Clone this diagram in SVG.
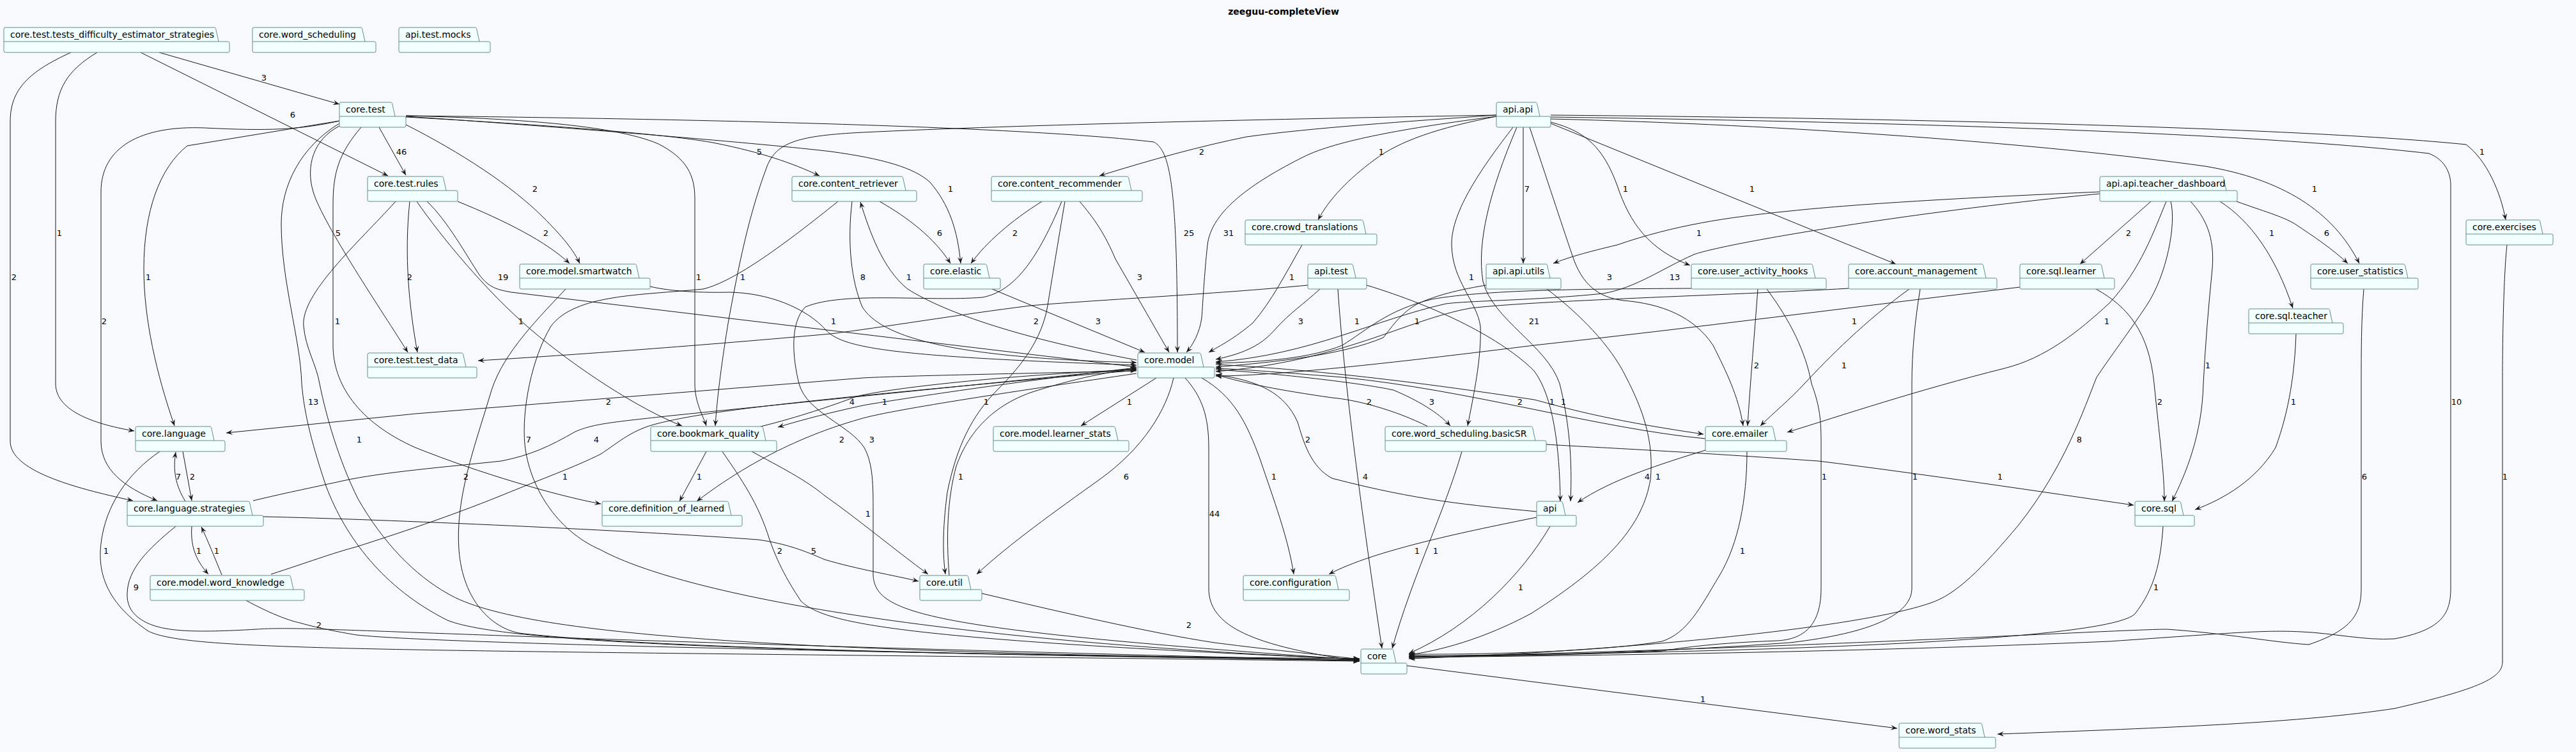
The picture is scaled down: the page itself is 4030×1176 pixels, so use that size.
<svg xmlns="http://www.w3.org/2000/svg" width="4030" height="1176" viewBox="0 0 4030 1176">
<defs>
<style>
.pk{fill:#F1FFFF;stroke:#668B8B;stroke-width:1}
.nl{font-family:"DejaVu Sans",Verdana,sans-serif;font-size:14px;fill:#000}
.e{fill:none;stroke:#181818;stroke-width:1;marker-end:url(#ah)}
.l{font-family:"DejaVu Sans",Verdana,sans-serif;font-size:13px;fill:#000;text-anchor:middle}
.t{font-family:"DejaVu Sans",Verdana,sans-serif;font-size:14px;font-weight:bold;text-anchor:middle;fill:#000}
</style>
<marker id="ah" viewBox="-11 -5 12 10" refX="0" refY="0" markerWidth="12" markerHeight="10" orient="auto" markerUnits="userSpaceOnUse"><path d="M0,0 L-10,-4 L-6,0 L-10,4 Z" fill="#181818"/></marker>
</defs>
<rect x="0" y="0" width="4030" height="1176" fill="#F8F9FD"/>
<text class="t" x="2008" y="23">zeeguu-completeView</text>

<g id="connectors">
<path id="e1" class="e" d="M249,82 L531,163"/>
<path id="e2" class="e" d="M220,82 L607,275"/>
<path id="e3" class="e" d="M152,82 C105,110 87,140 87,190 L87,600 C87,640 140,662 210,674"/>
<path id="e4" class="e" d="M111,82 C45,112 16,140 16,190 L16,690 C16,735 110,762 208,783"/>
<path id="e5" class="e" d="M593,199 L635,274"/>
<path id="e6" class="e" d="M531,197 C490,218 478,260 490,300 C505,350 600,490 638,551"/>
<path id="e7" class="e" d="M531,189 L293,228 C250,262 225,330 225,420 C225,500 245,585 273,666"/>
<path id="e8" class="e" d="M531,189 C470,203 420,205 320,200 C220,196 158,230 158,300 L158,690 C158,735 195,762 246,783"/>
<path id="e9" class="e" d="M531,193 C470,230 440,290 440,350 C440,440 470,530 472,600 C476,650 490,700 510,760 C540,840 600,920 700,970 C800,1010 1300,1020 2127,1033"/>
<path id="e10" class="e" d="M565,199 C530,240 521,270 521,320 L521,540 C521,600 560,660 650,700 C750,740 870,775 940,788"/>
<path id="e11" class="e" d="M635,195 C720,238 800,290 850,340 C880,370 898,392 907,412"/>
<path id="e12" class="e" d="M635,181 C800,185 960,195 1030,225 C1075,248 1087,275 1087,310 L1087,600 C1087,630 1100,650 1105,666"/>
<path id="e13" class="e" d="M635,183 C850,195 1050,210 1120,224 C1190,238 1240,255 1282,275"/>
<path id="e14" class="e" d="M635,182 C900,200 1200,225 1300,237 C1380,248 1430,262 1455,285 C1485,320 1498,360 1503,412"/>
<path id="e15" class="e" d="M635,181 C1100,186 1600,198 1805,222 C1832,236 1842,300 1842,551"/>
<path id="e16" class="e" d="M641,315 C632,400 640,480 653,551"/>
<path id="e17" class="e" d="M716,315 C790,345 855,378 891,412"/>
<path id="e18" class="e" d="M668,315 C700,345 730,400 750,430 C765,450 778,453 800,457 L1778,574"/>
<path id="e19" class="e" d="M619,315 C560,380 470,460 475,510 C478,545 495,570 500,600 C510,650 530,720 560,780 C600,850 650,900 700,928 C820,1000 1300,1020 2127,1032"/>
<path id="e20" class="e" d="M652,315 C690,370 760,455 830,515 C900,575 1000,640 1067,666"/>
<path id="e21" class="e" d="M885,452 C830,510 782,560 766,620 C742,700 712,780 718,860 C724,940 770,982 812,990 C1000,1012 1500,1025 2127,1030"/>
<path id="e22" class="e" d="M1017,448 C1050,456 1100,458 1141,457 C1200,458 1260,480 1293,517 C1320,545 1400,558 1778,571"/>
<path id="e23" class="e" d="M1311,315 C1230,380 1150,440 1100,452 C1000,462 900,460 862,510 C832,560 816,640 821,695 C828,760 870,830 940,860 C1050,920 1400,1000 2127,1031"/>
<path id="e24" class="e" d="M1333,315 C1325,380 1332,440 1349,480 C1380,530 1500,560 1778,567"/>
<path id="e25" class="e" d="M1778,563 C1600,530 1480,490 1420,452 C1380,420 1360,360 1346,316"/>
<path id="e26" class="e" d="M1376,315 C1420,340 1462,372 1487,412"/>
<path id="e27" class="e" d="M1630,315 C1582,345 1542,380 1519,412"/>
<path id="e28" class="e" d="M1689,315 C1712,342 1728,365 1745,405 L1829,551"/>
<path id="e29" class="e" d="M1666,315 C1655,380 1645,440 1639,478 C1630,530 1600,570 1560,610 C1520,650 1496,700 1482,770 C1474,830 1475,870 1479,898"/>
<path id="e30" class="e" d="M1661,315 C1625,400 1590,455 1537,465 C1450,472 1320,455 1260,480 C1235,505 1240,560 1250,600 C1262,645 1330,665 1352,700 C1366,725 1366,760 1366,800 L1366,900 C1370,960 1450,985 2127,1032"/>
<path id="e31" class="e" d="M1485,900 C1480,840 1482,780 1496,729 C1510,690 1540,640 1612,614 C1680,592 1740,580 1778,577"/>
<path id="e32" class="e" d="M1836,591 C1825,640 1790,700 1720,750 C1650,800 1580,850 1528,898"/>
<path id="e33" class="e" d="M1809,591 L1691,666"/>
<path id="e34" class="e" d="M1854,591 C1880,620 1891,650 1891,700 L1891,920 C1891,980 1960,1010 2127,1034"/>
<path id="e35" class="e" d="M1880,591 C1930,620 1950,660 1972,720 C1992,780 2015,840 2024,898"/>
<path id="e36" class="e" d="M1778,580 C1600,584 1400,588 1350,591 L650,647 L354,677"/>
<path id="e37" class="e" d="M396,783 C450,770 500,760 536,752 C600,738 700,730 784,721 C830,712 860,698 900,675 C930,662 962,660 1050,650 L1778,576"/>
<path id="e38" class="e" d="M424,898 C480,880 520,865 558,855 C620,835 700,809 784,775 C850,748 900,730 940,710 C970,690 989,672 1030,662 C1100,645 1200,630 1778,579"/>
<path id="e39" class="e" d="M1105,706 L1063,784"/>
<path id="e40" class="e" d="M1778,584 C1600,610 1400,640 1350,654 C1300,668 1200,700 1090,784"/>
<path id="e41" class="e" d="M1190,667 C1250,652 1300,635 1340,620 C1400,605 1600,585 1778,578"/>
<path id="e42" class="e" d="M1778,575 C1600,595 1400,625 1350,634 C1300,645 1260,655 1217,668"/>
<path id="e43" class="e" d="M1130,706 C1160,750 1186,786 1204,844 C1220,890 1240,920 1253,940 C1290,975 1400,1000 2127,1031"/>
<path id="e44" class="e" d="M412,808 C600,812 1000,830 1186,844 C1230,850 1260,862 1290,875 C1340,890 1400,900 1437,909"/>
<path id="e45" class="e" d="M1176,706 C1220,730 1260,750 1290,775 C1340,810 1400,860 1452,898"/>
<path id="e46" class="e" d="M1536,928 C1650,955 1800,990 1900,1005 C2000,1018 2080,1025 2127,1031"/>
<path id="e47" class="e" d="M250,706 C200,740 165,790 158,850 C152,900 170,945 232,987 C300,1020 600,1015 2127,1034"/>
<path id="e48" class="e" d="M275,823 C230,860 200,890 199,928 C198,950 210,965 232,975 C260,987 300,990 402,984 C500,978 600,995 2127,1033"/>
<path id="e49" class="e" d="M385,939 C420,958 450,970 469,974 C500,983 540,990 558,993 C700,1008 1500,1022 2127,1033"/>
<path id="e50" class="e" d="M300,823 C298,850 304,874 326,898"/>
<path id="e51" class="e" d="M347,899 C335,870 325,845 315,824"/>
<path id="e52" class="e" d="M290,784 C275,760 270,735 275,707"/>
<path id="e53" class="e" d="M286,706 L300,783"/>
<path id="e54" class="e" d="M2046,446 C1900,460 1700,470 1612,478 C1500,492 1380,512 1300,522 C1100,540 900,555 748,564"/>
<path id="e55" class="e" d="M2065,452 C2040,475 2017,490 1995,515 C1975,538 1950,552 1902,562"/>
<path id="e56" class="e" d="M2093,452 C2103,600 2130,800 2162,1014"/>
<path id="e57" class="e" d="M2037,383 C2010,430 1990,470 1960,505 C1930,530 1910,540 1891,551"/>
<path id="e58" class="e" d="M2325,446 C2270,455 2240,465 2218,475 C2190,490 2175,515 2164,528 C2100,555 2000,566 1902,574"/>
<path id="e59" class="e" d="M2646,451 C2500,452 2330,452 2240,468 C2170,485 2140,515 2100,540 C2050,560 1980,566 1902,568"/>
<path id="e60" class="e" d="M2892,451 C2700,462 2400,470 2300,482 C2200,500 2100,565 1902,581"/>
<path id="e61" class="e" d="M3160,449 C2900,480 2650,513 2400,540 C2200,565 2000,588 1902,588"/>
<path id="e62" class="e" d="M3285,303 C3000,330 2700,380 2650,398 C2600,420 2560,450 2508,459 C2400,470 2300,470 2262,475 C2150,500 2050,555 1902,566"/>
<path id="e63" class="e" d="M3285,300 C3100,308 2912,318 2800,330 C2700,340 2620,352 2530,383 C2480,395 2455,402 2430,412"/>
<path id="e64" class="e" d="M2341,180 C2200,190 2050,200 1950,214 C1880,228 1800,250 1720,275"/>
<path id="e65" class="e" d="M2341,182 C2250,200 2190,220 2150,250 C2110,280 2080,310 2062,344"/>
<path id="e66" class="e" d="M2341,182 C2200,200 2090,220 2040,245 C1960,285 1895,330 1889,383 C1884,430 1882,470 1880,497 C1877,520 1866,540 1856,551"/>
<path id="e67" class="e" d="M2341,180 C2000,186 1600,195 1350,207 C1250,212 1215,222 1200,260 C1170,340 1155,420 1140,500 C1130,560 1122,620 1119,666"/>
<path id="e68" class="e" d="M2383,199 L2383,412"/>
<path id="e69" class="e" d="M2367,199 C2320,260 2270,330 2271,383 C2272,440 2310,470 2316,510 C2318,560 2305,620 2296,666"/>
<path id="e70" class="e" d="M2373,199 C2330,300 2310,380 2320,440 C2335,500 2420,540 2440,600 C2455,660 2460,720 2457,784"/>
<path id="e71" class="e" d="M2138,446 C2250,480 2350,530 2400,580 C2430,620 2440,700 2441,784"/>
<path id="e72" class="e" d="M2420,452 C2470,490 2520,540 2544,590 C2570,640 2588,690 2582,750 C2570,820 2520,880 2396,959 C2320,1000 2250,1018 2204,1024"/>
<path id="e73" class="e" d="M2393,199 C2420,280 2441,344 2460,400 C2475,445 2500,465 2540,470 C2600,475 2650,495 2680,540 C2700,580 2720,620 2727,666"/>
<path id="e74" class="e" d="M2426,191 C2480,205 2508,230 2530,290 C2550,350 2580,390 2644,415"/>
<path id="e75" class="e" d="M2426,193 L2966,413"/>
<path id="e76" class="e" d="M2426,186 C2800,195 3200,225 3450,260 C3570,280 3650,330 3691,412"/>
<path id="e77" class="e" d="M2426,183 C2900,190 3500,205 3800,240 C3825,250 3834,270 3834,290 L3834,920 C3834,960 3820,985 3746,999 C3700,1002 3650,990 3600,988 C3540,985 3490,990 3300,1003 C2900,1020 2500,1025 2204,1028"/>
<path id="e78" class="e" d="M2426,180 C3000,185 3600,200 3858,226 C3890,250 3912,300 3920,344"/>
<path id="e79" class="e" d="M3365,315 L3254,413"/>
<path id="e80" class="e" d="M3389,315 C3370,360 3350,420 3300,474 C3250,520 3200,560 3136,576 C3000,610 2880,650 2796,676"/>
<path id="e81" class="e" d="M3396,315 C3405,350 3390,430 3358,478 C3330,520 3300,560 3280,590 C3260,640 3230,730 3158,821 C3100,890 3060,930 3020,943 C2900,985 2500,1020 2204,1030"/>
<path id="e82" class="e" d="M3427,315 C3450,340 3465,370 3461,420 C3455,480 3450,540 3447,600 C3445,680 3420,740 3398,784"/>
<path id="e83" class="e" d="M3473,315 C3520,345 3560,400 3587,482"/>
<path id="e84" class="e" d="M3499,315 C3540,330 3570,338 3590,350 C3620,370 3650,390 3673,412"/>
<path id="e85" class="e" d="M3279,452 C3330,480 3362,520 3370,600 C3378,680 3386,740 3386,784"/>
<path id="e86" class="e" d="M3592,522 C3590,580 3582,640 3560,700 C3530,750 3480,780 3434,797"/>
<path id="e87" class="e" d="M2419,695 C2500,700 2600,704 2845,721 C3000,740 3200,770 3338,790"/>
<path id="e88" class="e" d="M3384,823 C3380,880 3371,920 3340,960 C3300,1000 2800,1020 2204,1026"/>
<path id="e89" class="e" d="M3698,452 C3694,500 3694,550 3694,600 L3694,920 C3694,960 3680,985 3612,1008 C3560,1005 3480,990 3389,984 C3300,985 2800,1015 2204,1027"/>
<path id="e90" class="e" d="M3922,383 C3918,420 3915,500 3915,600 L3915,1035 C3915,1060 3880,1077 3746,1108 C3600,1130 3400,1138 3125,1148"/>
<path id="e91" class="e" d="M2201,1041 L2968,1139"/>
<path id="e92" class="e" d="M2750,452 C2745,520 2738,600 2734,666"/>
<path id="e93" class="e" d="M2764,452 C2800,500 2825,550 2834,600 C2845,630 2849,650 2849,690 L2849,920 C2849,980 2820,1000 2780,1002 C2700,1005 2650,1010 2600,1018 C2450,1025 2300,1027 2204,1025"/>
<path id="e94" class="e" d="M2987,452 C2920,500 2860,560 2823,600 C2800,625 2775,645 2754,666"/>
<path id="e95" class="e" d="M3004,452 C2996,500 2991,550 2991,600 L2991,920 C2991,960 2930,990 2800,1005 C2600,1020 2400,1025 2204,1028"/>
<path id="e96" class="e" d="M2668,704 C2600,725 2520,750 2468,786"/>
<path id="e97" class="e" d="M2733,706 C2733,780 2720,850 2690,900 C2660,950 2640,990 2600,1003 C2500,1020 2300,1024 2204,1023"/>
<path id="e98" class="e" d="M1902,570 C2100,580 2300,610 2400,625 C2440,635 2500,655 2665,679"/>
<path id="e99" class="e" d="M2668,686 C2500,670 2300,610 2100,590 C2000,582 1950,578 1902,576"/>
<path id="e100" class="e" d="M1902,578 C2000,584 2129,599 2180,610 C2218,626 2250,645 2269,666"/>
<path id="e101" class="e" d="M2234,667 C2180,640 2120,625 2084,622 C2000,610 1950,600 1902,586"/>
<path id="e102" class="e" d="M2287,706 C2260,800 2210,900 2178,1014"/>
<path id="e103" class="e" d="M2404,809 C2300,830 2150,860 2079,898"/>
<path id="e104" class="e" d="M2425,823 C2380,900 2300,980 2204,1022"/>
<path id="e105" class="e" d="M2404,800 C2300,790 2218,783 2084,748 C2050,730 2039,690 2030,660 C2010,615 1970,595 1902,586"/>
<path id="e106" class="e" d="M1552,452 L1791,551"/>
</g>

<g id="edge-labels">
<text class="l" x="413" y="126">3</text>
<text class="l" x="458" y="184">6</text>
<text class="l" x="93" y="369">1</text>
<text class="l" x="22" y="438">2</text>
<text class="l" x="628" y="242">46</text>
<text class="l" x="529" y="369">5</text>
<text class="l" x="232" y="438">1</text>
<text class="l" x="163" y="507">2</text>
<text class="l" x="490" y="633">13</text>
<text class="l" x="528" y="507">1</text>
<text class="l" x="837" y="300">2</text>
<text class="l" x="1093" y="438">1</text>
<text class="l" x="1188" y="242">5</text>
<text class="l" x="1487" y="300">1</text>
<text class="l" x="1860" y="369">25</text>
<text class="l" x="641" y="438">2</text>
<text class="l" x="854" y="369">2</text>
<text class="l" x="787" y="438">19</text>
<text class="l" x="562" y="692">1</text>
<text class="l" x="815" y="507">1</text>
<text class="l" x="729" y="750">2</text>
<text class="l" x="827" y="692">7</text>
<text class="l" x="1350" y="438">8</text>
<text class="l" x="1422" y="438">1</text>
<text class="l" x="1470" y="369">6</text>
<text class="l" x="1588" y="369">2</text>
<text class="l" x="1783" y="438">3</text>
<text class="l" x="1621" y="507">2</text>
<text class="l" x="1543" y="633">1</text>
<text class="l" x="1364" y="692">3</text>
<text class="l" x="1503" y="750">1</text>
<text class="l" x="1762" y="750">6</text>
<text class="l" x="1767" y="633">1</text>
<text class="l" x="1900" y="808">44</text>
<text class="l" x="1993" y="750">1</text>
<text class="l" x="952" y="633">2</text>
<text class="l" x="933" y="692">4</text>
<text class="l" x="884" y="750">1</text>
<text class="l" x="1094" y="750">1</text>
<text class="l" x="1317" y="692">2</text>
<text class="l" x="1333" y="633">4</text>
<text class="l" x="1384" y="633">1</text>
<text class="l" x="1220" y="866">2</text>
<text class="l" x="1273" y="866">5</text>
<text class="l" x="1358" y="808">1</text>
<text class="l" x="1860" y="982">2</text>
<text class="l" x="166" y="866">1</text>
<text class="l" x="213" y="923">9</text>
<text class="l" x="499" y="982">2</text>
<text class="l" x="311" y="866">1</text>
<text class="l" x="339" y="866">1</text>
<text class="l" x="279" y="750">7</text>
<text class="l" x="301" y="750">2</text>
<text class="l" x="1304" y="507">1</text>
<text class="l" x="2035" y="507">3</text>
<text class="l" x="2136" y="750">4</text>
<text class="l" x="2123" y="507">1</text>
<text class="l" x="2021" y="438">1</text>
<text class="l" x="2217" y="507">1</text>
<text class="l" x="2620" y="438">13</text>
<text class="l" x="2658" y="369">1</text>
<text class="l" x="1880" y="242">2</text>
<text class="l" x="2161" y="242">1</text>
<text class="l" x="1922" y="369">31</text>
<text class="l" x="1162" y="438">1</text>
<text class="l" x="2389" y="300">7</text>
<text class="l" x="2302" y="438">1</text>
<text class="l" x="2400" y="507">21</text>
<text class="l" x="2428" y="633">1</text>
<text class="l" x="2446" y="633">1</text>
<text class="l" x="2594" y="750">1</text>
<text class="l" x="2518" y="438">3</text>
<text class="l" x="2543" y="300">1</text>
<text class="l" x="2741" y="300">1</text>
<text class="l" x="3621" y="300">1</text>
<text class="l" x="3843" y="633">10</text>
<text class="l" x="3883" y="242">1</text>
<text class="l" x="3330" y="369">2</text>
<text class="l" x="3296" y="507">1</text>
<text class="l" x="3253" y="692">8</text>
<text class="l" x="3454" y="576">1</text>
<text class="l" x="3554" y="369">1</text>
<text class="l" x="3640" y="369">6</text>
<text class="l" x="3379" y="633">2</text>
<text class="l" x="3588" y="633">1</text>
<text class="l" x="3129" y="750">1</text>
<text class="l" x="3373" y="923">1</text>
<text class="l" x="3699" y="750">6</text>
<text class="l" x="3919" y="750">1</text>
<text class="l" x="2664" y="1098">1</text>
<text class="l" x="2748" y="576">2</text>
<text class="l" x="2854" y="750">1</text>
<text class="l" x="2885" y="576">1</text>
<text class="l" x="2901" y="507">1</text>
<text class="l" x="2996" y="750">1</text>
<text class="l" x="2577" y="750">4</text>
<text class="l" x="2726" y="866">1</text>
<text class="l" x="2378" y="633">2</text>
<text class="l" x="2240" y="633">3</text>
<text class="l" x="2142" y="633">2</text>
<text class="l" x="2246" y="866">1</text>
<text class="l" x="2217" y="866">1</text>
<text class="l" x="2379" y="923">1</text>
<text class="l" x="2046" y="692">2</text>
<text class="l" x="1718" y="507">3</text>
</g>

<g id="n1"><path class="pk" d="M6,65 V45.5 Q6,43 8.5,43 H335 Q337,43 337.5,44.5 L342,65 H356.5 Q359,65 359,67.5 V79.5 Q359,82 356.5,82 H8.5 Q6,82 6,79.5 Z"/><path class="pk" d="M6,65 H342"/><text class="nl" x="16" y="59">core.test.tests_difficulty_estimator_strategies</text></g>
<g id="n2"><path class="pk" d="M395,65 V45.5 Q395,43 397.5,43 H564 Q566,43 566.5,44.5 L571,65 H585.5 Q588,65 588,67.5 V79.5 Q588,82 585.5,82 H397.5 Q395,82 395,79.5 Z"/><path class="pk" d="M395,65 H571"/><text class="nl" x="405" y="59">core.word_scheduling</text></g>
<g id="n3"><path class="pk" d="M624,65 V45.5 Q624,43 626.5,43 H743 Q745,43 745.5,44.5 L750,65 H764.5 Q767,65 767,67.5 V79.5 Q767,82 764.5,82 H626.5 Q624,82 624,79.5 Z"/><path class="pk" d="M624,65 H750"/><text class="nl" x="634" y="59">api.test.mocks</text></g>
<g id="n4"><path class="pk" d="M531,182 V162.5 Q531,160 533.5,160 H611 Q613,160 613.5,161.5 L618,182 H632.5 Q635,182 635,184.5 V196.5 Q635,199 632.5,199 H533.5 Q531,199 531,196.5 Z"/><path class="pk" d="M531,182 H618"/><text class="nl" x="541" y="176">core.test</text></g>
<g id="n5"><path class="pk" d="M2341,182 V162.5 Q2341,160 2343.5,160 H2402 Q2404,160 2404.5,161.5 L2409,182 H2423.5 Q2426,182 2426,184.5 V196.5 Q2426,199 2423.5,199 H2343.5 Q2341,199 2341,196.5 Z"/><path class="pk" d="M2341,182 H2409"/><text class="nl" x="2351" y="176">api.api</text></g>
<g id="n6"><path class="pk" d="M575,298 V278.5 Q575,276 577.5,276 H691 Q693,276 693.5,277.5 L698,298 H713.5 Q716,298 716,300.5 V312.5 Q716,315 713.5,315 H577.5 Q575,315 575,312.5 Z"/><path class="pk" d="M575,298 H698"/><text class="nl" x="585" y="292">core.test.rules</text></g>
<g id="n7"><path class="pk" d="M1239,298 V278.5 Q1239,276 1241.5,276 H1410 Q1412,276 1412.5,277.5 L1417,298 H1431.5 Q1434,298 1434,300.5 V312.5 Q1434,315 1431.5,315 H1241.5 Q1239,315 1239,312.5 Z"/><path class="pk" d="M1239,298 H1417"/><text class="nl" x="1249" y="292">core.content_retriever</text></g>
<g id="n8"><path class="pk" d="M1551,298 V278.5 Q1551,276 1553.5,276 H1763 Q1765,276 1765.5,277.5 L1770,298 H1784.5 Q1787,298 1787,300.5 V312.5 Q1787,315 1784.5,315 H1553.5 Q1551,315 1551,312.5 Z"/><path class="pk" d="M1551,298 H1770"/><text class="nl" x="1561" y="292">core.content_recommender</text></g>
<g id="n9"><path class="pk" d="M3285,298 V278.5 Q3285,276 3287.5,276 H3476 Q3478,276 3478.5,277.5 L3483,298 H3497.5 Q3500,298 3500,300.5 V312.5 Q3500,315 3497.5,315 H3287.5 Q3285,315 3285,312.5 Z"/><path class="pk" d="M3285,298 H3483"/><text class="nl" x="3295" y="292">api.api.teacher_dashboard</text></g>
<g id="n10"><path class="pk" d="M1948,366 V346.5 Q1948,344 1950.5,344 H2130 Q2132,344 2132.5,345.5 L2137,366 H2151.5 Q2154,366 2154,368.5 V380.5 Q2154,383 2151.5,383 H1950.5 Q1948,383 1948,380.5 Z"/><path class="pk" d="M1948,366 H2137"/><text class="nl" x="1958" y="360">core.crowd_translations</text></g>
<g id="n11"><path class="pk" d="M3858,366 V346.5 Q3858,344 3860.5,344 H3971 Q3973,344 3973.5,345.5 L3978,366 H3991.5 Q3994,366 3994,368.5 V380.5 Q3994,383 3991.5,383 H3860.5 Q3858,383 3858,380.5 Z"/><path class="pk" d="M3858,366 H3978"/><text class="nl" x="3868" y="360">core.exercises</text></g>
<g id="n12"><path class="pk" d="M813,435 V415.5 Q813,413 815.5,413 H993 Q995,413 995.5,414.5 L1000,435 H1014.5 Q1017,435 1017,437.5 V449.5 Q1017,452 1014.5,452 H815.5 Q813,452 813,449.5 Z"/><path class="pk" d="M813,435 H1000"/><text class="nl" x="823" y="429">core.model.smartwatch</text></g>
<g id="n13"><path class="pk" d="M1445,435 V415.5 Q1445,413 1447.5,413 H1541 Q1543,413 1543.5,414.5 L1548,435 H1562.5 Q1565,435 1565,437.5 V449.5 Q1565,452 1562.5,452 H1447.5 Q1445,452 1445,449.5 Z"/><path class="pk" d="M1445,435 H1548"/><text class="nl" x="1455" y="429">core.elastic</text></g>
<g id="n14"><path class="pk" d="M2046,435 V415.5 Q2046,413 2048.5,413 H2114 Q2116,413 2116.5,414.5 L2121,435 H2135.5 Q2138,435 2138,437.5 V449.5 Q2138,452 2135.5,452 H2048.5 Q2046,452 2046,449.5 Z"/><path class="pk" d="M2046,435 H2121"/><text class="nl" x="2056" y="429">api.test</text></g>
<g id="n15"><path class="pk" d="M2325,435 V415.5 Q2325,413 2327.5,413 H2418 Q2420,413 2420.5,414.5 L2425,435 H2439.5 Q2442,435 2442,437.5 V449.5 Q2442,452 2439.5,452 H2327.5 Q2325,452 2325,449.5 Z"/><path class="pk" d="M2325,435 H2425"/><text class="nl" x="2335" y="429">api.api.utils</text></g>
<g id="n16"><path class="pk" d="M2646,435 V415.5 Q2646,413 2648.5,413 H2833 Q2835,413 2835.5,414.5 L2840,435 H2854.5 Q2857,435 2857,437.5 V449.5 Q2857,452 2854.5,452 H2648.5 Q2646,452 2646,449.5 Z"/><path class="pk" d="M2646,435 H2840"/><text class="nl" x="2656" y="429">core.user_activity_hooks</text></g>
<g id="n17"><path class="pk" d="M2892,435 V415.5 Q2892,413 2894.5,413 H3100 Q3102,413 3102.5,414.5 L3107,435 H3121.5 Q3124,435 3124,437.5 V449.5 Q3124,452 3121.5,452 H2894.5 Q2892,452 2892,449.5 Z"/><path class="pk" d="M2892,435 H3107"/><text class="nl" x="2902" y="429">core.account_management</text></g>
<g id="n18"><path class="pk" d="M3160,435 V415.5 Q3160,413 3162.5,413 H3285 Q3287,413 3287.5,414.5 L3292,435 H3305.5 Q3308,435 3308,437.5 V449.5 Q3308,452 3305.5,452 H3162.5 Q3160,452 3160,449.5 Z"/><path class="pk" d="M3160,435 H3292"/><text class="nl" x="3170" y="429">core.sql.learner</text></g>
<g id="n19"><path class="pk" d="M3615,435 V415.5 Q3615,413 3617.5,413 H3760 Q3762,413 3762.5,414.5 L3767,435 H3780.5 Q3783,435 3783,437.5 V449.5 Q3783,452 3780.5,452 H3617.5 Q3615,452 3615,449.5 Z"/><path class="pk" d="M3615,435 H3767"/><text class="nl" x="3625" y="429">core.user_statistics</text></g>
<g id="n20"><path class="pk" d="M3518,505 V485.5 Q3518,483 3520.5,483 H3642 Q3644,483 3644.5,484.5 L3649,505 H3663.5 Q3666,505 3666,507.5 V519.5 Q3666,522 3663.5,522 H3520.5 Q3518,522 3518,519.5 Z"/><path class="pk" d="M3518,505 H3649"/><text class="nl" x="3528" y="499">core.sql.teacher</text></g>
<g id="n21"><path class="pk" d="M575,574 V554.5 Q575,552 577.5,552 H722 Q724,552 724.5,553.5 L729,574 H743.5 Q746,574 746,576.5 V588.5 Q746,591 743.5,591 H577.5 Q575,591 575,588.5 Z"/><path class="pk" d="M575,574 H729"/><text class="nl" x="585" y="568">core.test.test_data</text></g>
<g id="n22"><path class="pk" d="M1780,574 V554.5 Q1780,552 1782.5,552 H1876 Q1878,552 1878.5,553.5 L1883,574 H1897.5 Q1900,574 1900,576.5 V588.5 Q1900,591 1897.5,591 H1782.5 Q1780,591 1780,588.5 Z"/><path class="pk" d="M1780,574 H1883"/><text class="nl" x="1790" y="568">core.model</text></g>
<g id="n23"><path class="pk" d="M212,689 V669.5 Q212,667 214.5,667 H328 Q330,667 330.5,668.5 L335,689 H349.5 Q352,689 352,691.5 V703.5 Q352,706 349.5,706 H214.5 Q212,706 212,703.5 Z"/><path class="pk" d="M212,689 H335"/><text class="nl" x="222" y="683">core.language</text></g>
<g id="n24"><path class="pk" d="M1018,689 V669.5 Q1018,667 1020.5,667 H1191 Q1193,667 1193.5,668.5 L1198,689 H1212.5 Q1215,689 1215,691.5 V703.5 Q1215,706 1212.5,706 H1020.5 Q1018,706 1018,703.5 Z"/><path class="pk" d="M1018,689 H1198"/><text class="nl" x="1028" y="683">core.bookmark_quality</text></g>
<g id="n25"><path class="pk" d="M1554,689 V669.5 Q1554,667 1556.5,667 H1742 Q1744,667 1744.5,668.5 L1749,689 H1763.5 Q1766,689 1766,691.5 V703.5 Q1766,706 1763.5,706 H1556.5 Q1554,706 1554,703.5 Z"/><path class="pk" d="M1554,689 H1749"/><text class="nl" x="1564" y="683">core.model.learner_stats</text></g>
<g id="n26"><path class="pk" d="M2167,689 V669.5 Q2167,667 2169.5,667 H2395 Q2397,667 2397.5,668.5 L2402,689 H2416.5 Q2419,689 2419,691.5 V703.5 Q2419,706 2416.5,706 H2169.5 Q2167,706 2167,703.5 Z"/><path class="pk" d="M2167,689 H2402"/><text class="nl" x="2177" y="683">core.word_scheduling.basicSR</text></g>
<g id="n27"><path class="pk" d="M2668,689 V669.5 Q2668,667 2670.5,667 H2771 Q2773,667 2773.5,668.5 L2778,689 H2792.5 Q2795,689 2795,691.5 V703.5 Q2795,706 2792.5,706 H2670.5 Q2668,706 2668,703.5 Z"/><path class="pk" d="M2668,689 H2778"/><text class="nl" x="2678" y="683">core.emailer</text></g>
<g id="n28"><path class="pk" d="M199,806 V786.5 Q199,784 201.5,784 H388 Q390,784 390.5,785.5 L395,806 H409.5 Q412,806 412,808.5 V820.5 Q412,823 409.5,823 H201.5 Q199,823 199,820.5 Z"/><path class="pk" d="M199,806 H395"/><text class="nl" x="209" y="800">core.language.strategies</text></g>
<g id="n29"><path class="pk" d="M942,806 V786.5 Q942,784 944.5,784 H1137 Q1139,784 1139.5,785.5 L1144,806 H1158.5 Q1161,806 1161,808.5 V820.5 Q1161,823 1158.5,823 H944.5 Q942,823 942,820.5 Z"/><path class="pk" d="M942,806 H1144"/><text class="nl" x="952" y="800">core.definition_of_learned</text></g>
<g id="n30"><path class="pk" d="M2404,806 V786.5 Q2404,784 2406.5,784 H2442 Q2444,784 2444.5,785.5 L2449,806 H2463.5 Q2466,806 2466,808.5 V820.5 Q2466,823 2463.5,823 H2406.5 Q2404,823 2404,820.5 Z"/><path class="pk" d="M2404,806 H2449"/><text class="nl" x="2414" y="800">api</text></g>
<g id="n31"><path class="pk" d="M3340,806 V786.5 Q3340,784 3342.5,784 H3409 Q3411,784 3411.5,785.5 L3416,806 H3430.5 Q3433,806 3433,808.5 V820.5 Q3433,823 3430.5,823 H3342.5 Q3340,823 3340,820.5 Z"/><path class="pk" d="M3340,806 H3416"/><text class="nl" x="3350" y="800">core.sql</text></g>
<g id="n32"><path class="pk" d="M235,922 V902.5 Q235,900 237.5,900 H452 Q454,900 454.5,901.5 L459,922 H473.5 Q476,922 476,924.5 V936.5 Q476,939 473.5,939 H237.5 Q235,939 235,936.5 Z"/><path class="pk" d="M235,922 H459"/><text class="nl" x="245" y="916">core.model.word_knowledge</text></g>
<g id="n33"><path class="pk" d="M1439,922 V902.5 Q1439,900 1441.5,900 H1512 Q1514,900 1514.5,901.5 L1519,922 H1533.5 Q1536,922 1536,924.5 V936.5 Q1536,939 1533.5,939 H1441.5 Q1439,939 1439,936.5 Z"/><path class="pk" d="M1439,922 H1519"/><text class="nl" x="1449" y="916">core.util</text></g>
<g id="n34"><path class="pk" d="M1945,922 V902.5 Q1945,900 1947.5,900 H2087 Q2089,900 2089.5,901.5 L2094,922 H2108.5 Q2111,922 2111,924.5 V936.5 Q2111,939 2108.5,939 H1947.5 Q1945,939 1945,936.5 Z"/><path class="pk" d="M1945,922 H2094"/><text class="nl" x="1955" y="916">core.configuration</text></g>
<g id="n35"><path class="pk" d="M2129,1037 V1017.5 Q2129,1015 2131.5,1015 H2177 Q2179,1015 2179.5,1016.5 L2184,1037 H2198.5 Q2201,1037 2201,1039.5 V1051.5 Q2201,1054 2198.5,1054 H2131.5 Q2129,1054 2129,1051.5 Z"/><path class="pk" d="M2129,1037 H2184"/><text class="nl" x="2139" y="1031">core</text></g>
<g id="n36"><path class="pk" d="M2971,1153 V1133.5 Q2971,1131 2973.5,1131 H3098 Q3100,1131 3100.5,1132.5 L3105,1153 H3119.5 Q3122,1153 3122,1155.5 V1167.5 Q3122,1170 3119.5,1170 H2973.5 Q2971,1170 2971,1167.5 Z"/><path class="pk" d="M2971,1153 H3105"/><text class="nl" x="2981" y="1147">core.word_stats</text></g>
</svg>
